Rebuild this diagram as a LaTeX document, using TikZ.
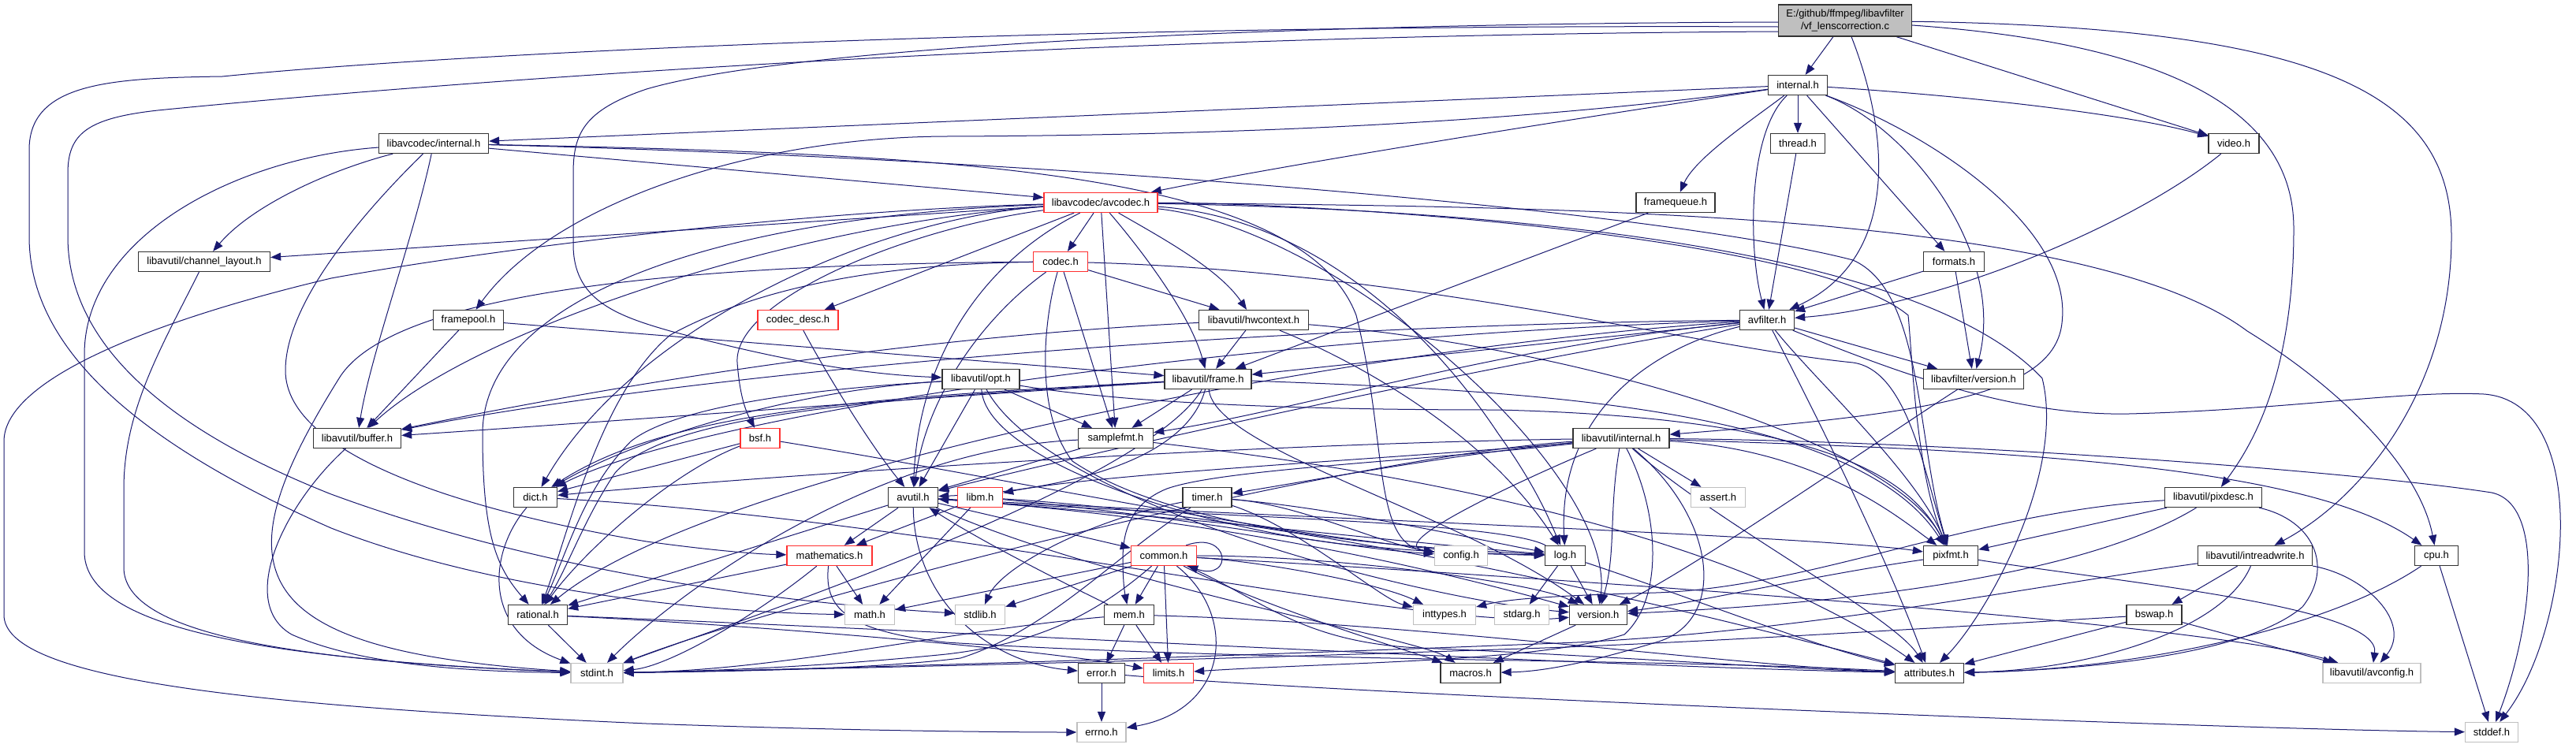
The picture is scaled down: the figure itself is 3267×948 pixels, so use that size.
\documentclass[tikz,border=0pt]{standalone}
\usepackage{fontspec}
\setmainfont{Liberation Sans}
\usetikzlibrary{arrows.meta}
\definecolor{edgec}{HTML}{191970}
\definecolor{greyb}{HTML}{BFBFBF}
\definecolor{rootf}{HTML}{BFBFBF}
\definecolor{redb}{HTML}{FF3030}
\pgfdeclarelayer{back}
\pgfdeclarelayer{bg}
\pgfsetlayers{back,bg,main}
\tikzset{
  base/.style={rectangle, minimum height=25pt, inner xsep=2pt, inner ysep=1pt, font=\fontsize{13}{15}\selectfont, fill=white, line width=1.3pt},
  nb/.style={base, draw=black!80},
  nr/.style={base, draw=redb},
  ng/.style={base, draw=greyb},
  lnk/.style={draw=edgec, line width=1pt, -{Triangle[length=13pt,width=10pt]}}
}
\begin{document}
\begin{tikzpicture}[x=1pt,y=-1pt]
\begin{pgfonlayer}{back}
\fill[white] (0,0) rectangle (3267,948);
\end{pgfonlayer}
\useasboundingbox (0,0) rectangle (3267,948);
% nodes
\node[nb, fill=rootf, minimum width=169pt, minimum height=40pt, align=center, font=\fontsize{13}{16}\selectfont] (root) at (2340,26) {E:/github/ffmpeg/libavfilter\\/vf\_lenscorrection.c};
\node[nb, minimum width=75pt] (internal) at (2280,108) {internal.h};
\node[nb, minimum width=139pt] (lavcint) at (550,182) {libavcodec/internal.h};
\node[nb, minimum width=69pt] (thread) at (2280,182) {thread.h};
\node[nb, minimum width=64pt] (video) at (2833,182) {video.h};
\node[nr, minimum width=144pt] (avcodec) at (1396,257) {libavcodec/avcodec.h};
\node[nb, minimum width=100pt] (framequeue) at (2125,257) {framequeue.h};
\node[nb, minimum width=167pt] (chlayout) at (259,332) {libavutil/channel\_layout.h};
\node[nr, minimum width=69pt] (codec) at (1345,332) {codec.h};
\node[nb, minimum width=77pt] (formats) at (2478,332) {formats.h};
\node[nb, minimum width=89pt] (framepool) at (594,406) {framepool.h};
\node[nr, minimum width=102pt] (codecdesc) at (1012,406) {codec\_desc.h};
\node[nb, minimum width=139pt] (hwcontext) at (1590,406) {libavutil/hwcontext.h};
\node[nb, minimum width=69pt] (avfilter) at (2241,406) {avfilter.h};
\node[nb, minimum width=98pt] (opt) at (1244,481) {libavutil/opt.h};
\node[nb, minimum width=110pt] (frame) at (1532,481) {libavutil/frame.h};
\node[nb, minimum width=127pt] (lavfversion) at (2503,481) {libavfilter/version.h};
\node[nb, minimum width=111pt] (buffer) at (453,556) {libavutil/buffer.h};
\node[nr, minimum width=50pt] (bsf) at (964,556) {bsf.h};
\node[nb, minimum width=95pt] (samplefmt) at (1415,556) {samplefmt.h};
\node[nb, minimum width=122pt] (lavuint) at (2056,556) {libavutil/internal.h};
\node[nb, minimum width=55pt] (dict) at (679,631) {dict.h};
\node[nb, minimum width=63pt] (avutil) at (1158,631) {avutil.h};
\node[nr, minimum width=57pt] (libm) at (1243,631) {libm.h};
\node[nb, minimum width=62pt] (timer) at (1531,631) {timer.h};
\node[ng, minimum width=69pt] (assert) at (2179,631) {assert.h};
\node[nb, minimum width=123pt] (pixdesc) at (2807,631) {libavutil/pixdesc.h};
\node[nr, minimum width=108pt] (mathematics) at (1052,705) {mathematics.h};
\node[nr, minimum width=83pt] (common) at (1476,705) {common.h};
\node[ng, minimum width=67pt] (config) at (1853,705) {config.h};
\node[nb, minimum width=51pt] (log) at (1985,705) {log.h};
\node[nb, minimum width=69pt] (pixfmt) at (2474,705) {pixfmt.h};
\node[nb, minimum width=145pt] (intreadwrite) at (2860,705) {libavutil/intreadwrite.h};
\node[nb, minimum width=55pt] (cpu) at (3090,705) {cpu.h};
\node[nb, minimum width=75pt] (rational) at (682,780) {rational.h};
\node[ng, minimum width=63pt] (math) at (1103,780) {math.h};
\node[ng, minimum width=63pt] (stdlib) at (1243,780) {stdlib.h};
\node[nb, minimum width=63pt] (mem) at (1432,780) {mem.h};
\node[ng, minimum width=79pt] (inttypes) at (1832,780) {inttypes.h};
\node[ng, minimum width=69pt] (stdarg) at (1930,780) {stdarg.h};
\node[nb, minimum width=73pt] (version) at (2027,780) {version.h};
\node[nb, minimum width=70pt] (bswap) at (2732,780) {bswap.h};
\node[ng, minimum width=66pt] (stdint) at (757,854) {stdint.h};
\node[nb, minimum width=59pt] (error) at (1397,854) {error.h};
\node[nr, minimum width=63pt] (limits) at (1482,854) {limits.h};
\node[nb, minimum width=76pt] (macros) at (1865,854) {macros.h};
\node[nb, minimum width=87pt] (attributes) at (2447,854) {attributes.h};
\node[ng, minimum width=124pt] (avconfig) at (3008,854) {libavutil/avconfig.h};
\node[ng, minimum width=62pt] (errno) at (1397,929) {errno.h};
\node[ng, minimum width=67pt] (stddef) at (3160,929) {stddef.h};

\begin{pgfonlayer}{bg}
% root
\draw[lnk] (root) -- (internal);
\draw[lnk] (root) .. controls (2400,180) and (2405,330) .. (avfilter);
\draw[lnk] (root) -- (video);
\draw[lnk] (root) .. controls (2750,55) and (2909,140) .. (2909,290) .. controls (2909,470) and (2860,560) .. (pixdesc);
\draw[lnk] (root) .. controls (2950,35) and (3109,120) .. (3109,300) .. controls (3109,490) and (3000,630) .. (intreadwrite);
\draw[lnk] ([yshift=-2pt]root.west) .. controls (1600,30) and (1000,60) .. (820,113) .. controls (740,140) and (727,170) .. (727,220) -- (727,310) .. controls (727,380) and (780,400) .. (850,420) .. controls (1000,460) and (1100,475) .. (opt);
\draw[lnk] ([yshift=-8pt]root.west) .. controls (1400,30) and (600,65) .. (282,97) .. controls (140,99) and (37,105) .. (37,190) -- (37,300) .. controls (37,440) and (170,560) .. (420,670) .. controls (650,760) and (950,778) .. (math);
\draw[lnk] ([yshift=-14pt]root.west) .. controls (1300,45) and (500,110) .. (200,140) .. controls (110,150) and (86,170) .. (86,220) -- (86,300) .. controls (86,430) and (200,540) .. (420,627) .. controls (700,730) and (1000,765) .. (stdlib);
% internal
\draw[lnk] (internal) -- (lavcint);
\draw[lnk] (internal) .. controls (1900,165) and (1600,215) .. (avcodec);
\draw[lnk] (internal) .. controls (1900,160) and (1500,172) .. (1200,173) .. controls (950,174) and (700,260) .. (framepool);
\draw[lnk] (internal) .. controls (2225,150) and (2150,200) .. (framequeue);
\draw[lnk] (internal) -- (thread);
\draw[lnk] (internal) .. controls (2215,170) and (2218,320) .. (avfilter);
\draw[lnk] (internal) -- (formats);
\draw[lnk] (internal) .. controls (2420,160) and (2545,320) .. (lavfversion);
\draw[lnk] (internal) .. controls (2500,122) and (2700,145) .. (video);
\draw[lnk] (internal) .. controls (2450,170) and (2630,290) .. (2615,410) .. controls (2605,500) and (2450,525) .. (lavuint);
% libavcodec/internal.h
\draw[lnk] (lavcint) .. controls (420,215) and (320,260) .. (chlayout);
\draw[lnk] (lavcint) .. controls (300,200) and (107,300) .. (107,450) -- (107,700) .. controls (107,790) and (300,835) .. (stdint);
\draw[lnk] (lavcint) .. controls (470,260) and (362,380) .. (362,470) .. controls (362,580) and (600,650) .. (820,687) .. controls (900,698) and (960,703) .. (mathematics);
\draw[lnk] (lavcint) .. controls (525,300) and (470,450) .. (buffer);
\draw[lnk] (lavcint) -- (avcodec);
\draw[lnk] (lavcint) .. controls (1300,200) and (2100,265) .. (2350,330) .. controls (2440,370) and (2430,560) .. (pixfmt);
\draw[lnk] (lavcint) .. controls (1200,195) and (1650,215) .. (1720,400) .. controls (1760,560) and (1740,690) .. (config);
% channel layout
\draw[lnk] (chlayout) .. controls (205,440) and (157,520) .. (157,620) -- (157,720) .. controls (157,800) and (350,838) .. (stdint);
% framepool, framequeue, thread, video, formats
\draw[lnk] (framepool) -- (buffer);
\draw[lnk] (framepool) -- (frame);
\draw[lnk] (framequeue) -- (frame);
\draw[lnk] (thread) -- (avfilter);
\draw[lnk] (video) .. controls (2700,290) and (2450,390) .. (avfilter);
\draw[lnk] (formats) -- (avfilter);
\draw[lnk] (formats) -- (lavfversion);
% avfilter
\draw[lnk] (avfilter) .. controls (2300,520) and (2390,700) .. (attributes);
\draw[lnk] (avfilter) .. controls (1900,460) and (1400,570) .. (avutil);
\draw[lnk] (avfilter) .. controls (1600,412) and (900,470) .. (buffer);
\draw[lnk] (avfilter) .. controls (1600,425) and (900,520) .. (dict);
\draw[lnk] (avfilter) -- (frame);
\draw[lnk] (avfilter) .. controls (2100,440) and (1975,520) .. (log);
\draw[lnk] (avfilter) .. controls (1900,440) and (1650,520) .. (samplefmt);
\draw[lnk] (avfilter) .. controls (2300,480) and (2430,600) .. (pixfmt);
\draw[lnk] (avfilter) .. controls (1700,440) and (900,600) .. (rational);
\draw[lnk] (avfilter) -- (lavfversion);
\draw[lnk] (avfilter) .. controls (2400,470) and (2550,528) .. (2700,525) .. controls (2900,520) and (3050,495) .. (3150,500) .. controls (3290,510) and (3260,800) .. (stddef);
% avcodec
\draw[lnk] (avcodec) .. controls (1000,268) and (600,320) .. (420,353) .. controls (200,405) and (5,480) .. (5,560) -- (5,780) .. controls (5,860) and (300,895) .. (820,918) .. controls (1100,928) and (1300,929) .. (errno);
\draw[lnk] (avcodec) -- (chlayout);
\draw[lnk] (avcodec) .. controls (1000,285) and (600,420) .. (buffer);
\draw[lnk] (avcodec) -- (codec);
\draw[lnk] (avcodec) -- (codecdesc);
\draw[lnk] (avcodec) .. controls (1150,290) and (930,380) .. (935,460) .. controls (938,500) and (945,520) .. (bsf);
\draw[lnk] (avcodec) .. controls (1250,330) and (1165,450) .. (avutil);
\draw[lnk] (avcodec) .. controls (1450,320) and (1510,400) .. (frame);
\draw[lnk] (avcodec) .. controls (1470,300) and (1545,340) .. (hwcontext);
\draw[lnk] (avcodec) -- (samplefmt);
\draw[lnk] (avcodec) .. controls (1100,278) and (800,420) .. (dict);
\draw[lnk] (avcodec) .. controls (900,275) and (612,380) .. (612,550) .. controls (612,680) and (630,720) .. (rational);
\draw[lnk] (avcodec) .. controls (1650,275) and (1800,400) .. (1900,550) .. controls (1950,620) and (1965,660) .. (log);
\draw[lnk] (avcodec) .. controls (1700,258) and (2300,300) .. (2420,400) .. controls (2425,450) and (2430,600) .. (pixfmt);
\draw[lnk] (avcodec) .. controls (2000,262) and (2650,270) .. (2850,420) .. controls (2980,500) and (3070,600) .. (cpu);
\draw[lnk] (avcodec) .. controls (2000,268) and (2450,330) .. (2590,480) .. controls (2620,600) and (2520,780) .. (attributes);
\draw[lnk] (avcodec) .. controls (1700,290) and (2050,600) .. (version);
% codec
\draw[lnk] (codec) .. controls (1250,400) and (1175,500) .. (avutil);
\draw[lnk] (codec) -- (hwcontext);
\draw[lnk] (codec) .. controls (1800,345) and (2150,440) .. (2350,460) .. controls (2420,470) and (2440,600) .. (pixfmt);
\draw[lnk] (codec) .. controls (900,335) and (500,365) .. (430,480) .. controls (280,720) and (300,825) .. (stdint);
\draw[lnk] (codec) .. controls (1100,335) and (950,370) .. (850,425) .. controls (760,500) and (720,680) .. (rational);
\draw[lnk] (codec) .. controls (1325,400) and (1310,520) .. (1360,585) .. controls (1500,680) and (1800,695) .. (log);
\draw[lnk] (codec) -- (samplefmt);
% codec_desc, bsf
\draw[lnk] (codecdesc) .. controls (1040,460) and (1100,560) .. (avutil);
\draw[lnk] (bsf) -- (dict);
\draw[lnk] (bsf) .. controls (850,600) and (740,700) .. (rational);
\draw[lnk] (bsf) .. controls (1300,610) and (1700,700) .. (log);
% hwcontext
\draw[lnk] (hwcontext) .. controls (1100,430) and (700,505) .. (buffer);
\draw[lnk] (hwcontext) -- (frame);
\draw[lnk] (hwcontext) .. controls (1700,450) and (1880,540) .. (log);
\draw[lnk] (hwcontext) .. controls (2000,440) and (2400,560) .. (pixfmt);
% opt
\draw[lnk] (opt) -- (avutil);
\draw[lnk] (opt) -- (samplefmt);
\draw[lnk] (opt) .. controls (1000,495) and (800,560) .. (dict);
\draw[lnk] (opt) .. controls (1000,495) and (850,520) .. (800,560) .. controls (740,620) and (720,700) .. (rational);
\draw[lnk] (opt) .. controls (1250,580) and (1500,665) .. (1700,690) .. controls (1850,705) and (1920,703) .. (log);
\draw[lnk] (opt) .. controls (1330,640) and (1800,760) .. (version);
\draw[lnk] (opt) .. controls (1450,515) and (1700,520) .. (1900,520) .. controls (2300,530) and (2420,600) .. (pixfmt);
% frame
\draw[lnk] (frame) -- (samplefmt);
\draw[lnk] (frame) .. controls (1500,600) and (1300,625) .. (avutil);
\draw[lnk] (frame) .. controls (1100,510) and (700,540) .. (buffer);
\draw[lnk] (frame) .. controls (1100,505) and (850,520) .. (dict);
\draw[lnk] (frame) .. controls (1150,505) and (850,520) .. (780,600) .. controls (740,660) and (720,720) .. (rational);
\draw[lnk] (frame) .. controls (1900,495) and (2350,510) .. (pixfmt);
\draw[lnk] (frame) .. controls (1540,570) and (1850,650) .. (version);
\draw[lnk] (frame) .. controls (1450,620) and (900,800) .. (stdint);
% libavfilter/version.h, buffer
\draw[lnk] (lavfversion) .. controls (2380,560) and (2150,720) .. (version);
\draw[lnk] (buffer) .. controls (360,640) and (300,765) .. (370,805) .. controls (460,845) and (600,852) .. (stdint);
% samplefmt
\draw[lnk] (samplefmt) -- (avutil);
\draw[lnk] (samplefmt) .. controls (1800,600) and (2200,680) .. (attributes);
\draw[lnk] (samplefmt) .. controls (1100,570) and (850,760) .. (stdint);
% libavutil/internal.h
\draw[lnk] (lavuint) .. controls (2105,650) and (2110,760) .. (2060,805) .. controls (1950,840) and (1700,840) .. (limits);
\draw[lnk] (lavuint) .. controls (1700,580) and (1000,760) .. (stdint);
\draw[lnk] (lavuint) .. controls (2500,560) and (3000,600) .. (3160,625) .. controls (3230,640) and (3210,800) .. (stddef);
\draw[lnk] (lavuint) -- (assert);
\draw[lnk] (lavuint) .. controls (1950,600) and (1750,690) .. (config);
\draw[lnk] (lavuint) .. controls (2170,660) and (2400,780) .. (attributes);
\draw[lnk] (lavuint) .. controls (1850,575) and (1650,612) .. (timer);
\draw[lnk] (lavuint) .. controls (2500,570) and (2920,585) .. (cpu);
\draw[lnk] (lavuint) .. controls (1500,565) and (900,610) .. (dict);
\draw[lnk] (lavuint) .. controls (1800,585) and (1550,595) .. (1480,620) .. controls (1430,640) and (1424,680) .. (1424,710) .. controls (1424,735) and (1426,750) .. (mem);
\draw[lnk] (lavuint) .. controls (2300,570) and (2400,650) .. (pixfmt);
\draw[lnk] (lavuint) .. controls (2040,650) and (2050,700) .. (version);
\draw[lnk] (lavuint) .. controls (2180,660) and (2190,790) .. (2100,815) .. controls (2000,845) and (1950,852) .. (macros);
\draw[lnk] (lavuint) .. controls (1800,580) and (1400,600) .. (libm);
% dict
\draw[lnk] (dict) .. controls (620,700) and (610,800) .. (stdint);
\draw[lnk] (dict) .. controls (1200,660) and (1800,800) .. (version);
% avutil
\draw[lnk] (avutil) -- (common);
\draw[lnk] (avutil) .. controls (1160,760) and (1250,840) .. (error);
\draw[lnk] (avutil) -- (rational);
\draw[lnk] (avutil) .. controls (1600,660) and (1900,745) .. (version);
\draw[lnk] (avutil) .. controls (1400,740) and (1800,810) .. (macros);
\draw[lnk] (avutil) -- (mathematics);
\draw[lnk] (avutil) .. controls (1500,655) and (1800,690) .. (log);
\draw[lnk] (avutil) .. controls (1600,655) and (2300,680) .. (pixfmt);
% libm
\draw[lnk] (libm) -- (math);
\draw[lnk] (libm) -- (mathematics);
\draw[lnk] (libm) .. controls (1500,655) and (1700,695) .. (config);
\draw[lnk] (libm) .. controls (1700,660) and (2200,790) .. (attributes);
% timer
\draw[lnk] (timer) .. controls (1380,660) and (1270,720) .. (stdlib);
\draw[lnk] (timer) .. controls (1420,700) and (1330,800) .. (1218,835) .. controls (1100,850) and (900,852) .. (stdint);
\draw[lnk] (timer) .. controls (1650,640) and (1750,690) .. (config);
\draw[lnk] (timer) .. controls (1700,645) and (1900,690) .. (log);
\draw[lnk] (timer) .. controls (1650,670) and (1750,760) .. (inttypes);
% pixdesc
\draw[lnk] (pixdesc) -- (pixfmt);
\draw[lnk] (pixdesc) .. controls (2620,745) and (2250,770) .. (version);
\draw[lnk] (pixdesc) .. controls (2935,660) and (2960,720) .. (2920,770) .. controls (2850,830) and (2650,850) .. (attributes);
\draw[lnk] (pixdesc) .. controls (2500,650) and (2300,745) .. (2100,752) .. controls (2000,755) and (1920,758) .. (inttypes);
% mathematics
\draw[lnk] (mathematics) -- (rational);
\draw[lnk] (mathematics) .. controls (960,780) and (850,845) .. (stdint);
\draw[lnk] (mathematics) -- (math);
\draw[lnk] (mathematics) .. controls (1045,770) and (1070,800) .. (1200,815) .. controls (1600,840) and (2100,835) .. (attributes);
% common
\draw[lnk] (common) -- (math);
\draw[lnk] (common) -- (stdlib);
\draw[lnk] (common) .. controls (1400,770) and (1330,815) .. (1200,830) .. controls (1000,850) and (850,852) .. (stdint);
\draw[lnk] (common) -- (mem);
\draw[lnk] (common) -- (limits);
\draw[lnk] (common) .. controls (1570,780) and (1560,900) .. (errno);
\draw[lnk] (common) .. controls (1600,770) and (1800,830) .. (macros);
\draw[lnk] (common) .. controls (1600,760) and (1650,815) .. (1800,822) .. controls (2000,830) and (2250,848) .. (attributes);
\draw[lnk] (common) .. controls (1600,712) and (1750,740) .. (inttypes);
\draw[lnk] (common) .. controls (1700,705) and (1950,740) .. (version);
\draw[lnk] (common) .. controls (2000,735) and (2800,790) .. (avconfig);
\draw[lnk] ([xshift=-14pt]common.north east) .. controls (1560,672) and (1565,738) .. ([xshift=-12pt]common.south east);
% log
\draw[lnk] (log) -- (stdarg);
\draw[lnk] (log) -- (version);
\draw[lnk] (log) .. controls (2150,760) and (2300,820) .. (attributes);
\draw[lnk] (log) .. controls (1900,660) and (1500,655) .. (avutil);
% pixfmt
\draw[lnk] (pixfmt) .. controls (2700,740) and (3020,770) .. (avconfig);
\draw[lnk] (pixfmt) .. controls (2300,730) and (2150,765) .. (version);
% intreadwrite
\draw[lnk] (intreadwrite) .. controls (2600,740) and (2300,800) .. (2000,815) .. controls (1500,835) and (1000,850) .. (stdint);
\draw[lnk] (intreadwrite) -- (bswap);
\draw[lnk] (intreadwrite) .. controls (2820,800) and (2650,850) .. (attributes);
\draw[lnk] (intreadwrite) .. controls (3000,730) and (3060,790) .. (avconfig);
% cpu
\draw[lnk] (cpu) -- (stddef);
\draw[lnk] (cpu) .. controls (2950,800) and (2700,850) .. (attributes);
% rational
\draw[lnk] (rational) -- (stdint);
\draw[lnk] (rational) .. controls (900,790) and (1300,820) .. (limits);
\draw[lnk] (rational) .. controls (1200,800) and (2000,845) .. (attributes);
% mem
\draw[lnk] (mem) .. controls (1200,800) and (1000,850) .. (stdint);
\draw[lnk] (mem) -- (error);
\draw[lnk] (mem) -- (limits);
\draw[lnk] (mem) .. controls (1800,790) and (2200,845) .. (attributes);
\draw[lnk] (mem) .. controls (1350,740) and (1250,690) .. (avutil);
% version, bswap, error
\draw[lnk] (version) -- (macros);
\draw[lnk] (bswap) .. controls (2400,800) and (2100,818) .. (1900,824) .. controls (1500,838) and (1000,850) .. (stdint);
\draw[lnk] (bswap) -- (attributes);
\draw[lnk] (bswap) -- (avconfig);
\draw[lnk] (error) -- (errno);
\draw[lnk] (error) .. controls (1700,880) and (2800,925) .. (stddef);
\end{pgfonlayer}
\end{tikzpicture}
\end{document}
